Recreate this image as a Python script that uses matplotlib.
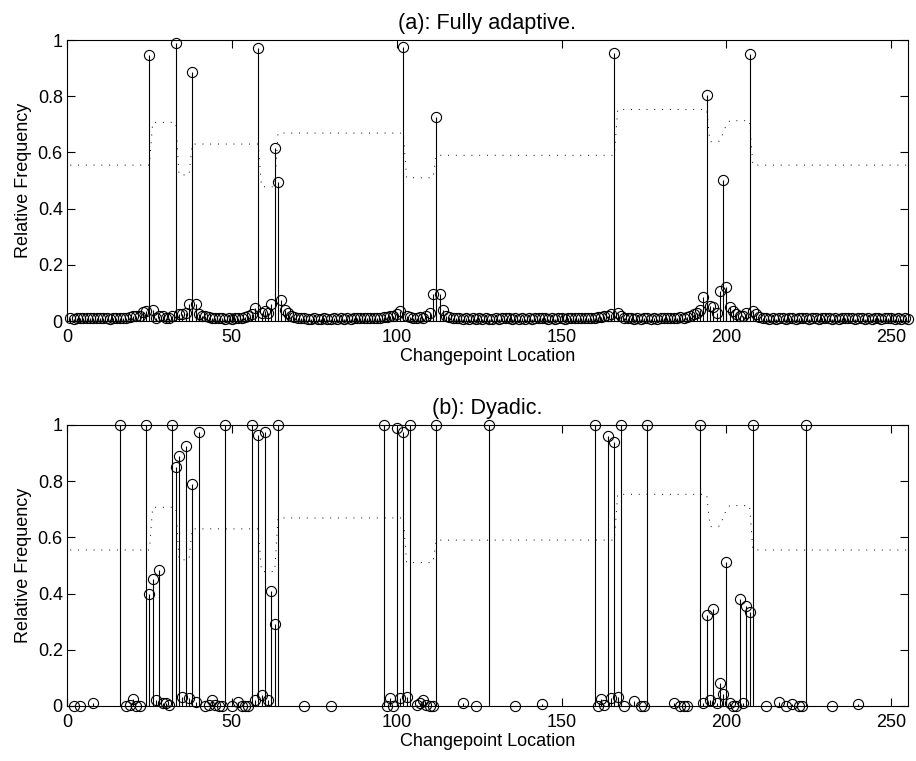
import numpy as np
from matplotlib import pyplot as plt

plt.rcParams['font.family'] = ['Liberation Sans', 'DejaVu Sans']
plt.rcParams['font.size'] = 13

# (a) fully adaptive: relative frequency at every location 1..255
freq_adaptive = [
    0.010, 0.008, 0.010, 0.012, 0.010, 0.012, 0.010, 0.012, 0.010, 0.010,
    0.012, 0.010, 0.008, 0.010, 0.010, 0.012, 0.010, 0.012, 0.015, 0.018,
    0.020, 0.020, 0.033, 0.035, 0.945, 0.038, 0.012, 0.020, 0.018, 0.012,
    0.010, 0.020, 0.990, 0.027, 0.025, 0.030, 0.060, 0.885, 0.060, 0.025,
    0.020, 0.018, 0.015, 0.012, 0.012, 0.010, 0.010, 0.008, 0.010, 0.008,
    0.010, 0.012, 0.012, 0.015, 0.020, 0.025, 0.045, 0.970, 0.030, 0.035,
    0.030, 0.060, 0.615, 0.495, 0.075, 0.040, 0.030, 0.020, 0.015, 0.012,
    0.010, 0.010, 0.008, 0.008, 0.010, 0.008, 0.008, 0.010, 0.008, 0.008,
    0.010, 0.008, 0.010, 0.008, 0.010, 0.008, 0.010, 0.010, 0.012, 0.010,
    0.010, 0.012, 0.010, 0.012, 0.012, 0.015, 0.015, 0.018, 0.020, 0.025,
    0.035, 0.975, 0.020, 0.015, 0.012, 0.012, 0.015, 0.012, 0.018, 0.030,
    0.098, 0.725, 0.098, 0.040, 0.020, 0.015, 0.012, 0.010, 0.010, 0.008,
    0.010, 0.008, 0.010, 0.008, 0.010, 0.008, 0.010, 0.008, 0.008, 0.010,
    0.008, 0.010, 0.010, 0.012, 0.008, 0.010, 0.008, 0.010, 0.008, 0.010,
    0.008, 0.010, 0.010, 0.012, 0.010, 0.008, 0.010, 0.008, 0.010, 0.010,
    0.008, 0.010, 0.010, 0.010, 0.012, 0.010, 0.010, 0.012, 0.012, 0.012,
    0.015, 0.015, 0.018, 0.020, 0.025, 0.955, 0.028, 0.018, 0.012, 0.010,
    0.010, 0.008, 0.010, 0.008, 0.010, 0.010, 0.008, 0.010, 0.008, 0.010,
    0.010, 0.012, 0.010, 0.012, 0.012, 0.015, 0.012, 0.015, 0.018, 0.025,
    0.030, 0.040, 0.087, 0.805, 0.055, 0.050, 0.030, 0.108, 0.503, 0.120,
    0.050, 0.035, 0.025, 0.020, 0.020, 0.030, 0.950, 0.037, 0.025, 0.015,
    0.010, 0.010, 0.008, 0.010, 0.008, 0.010, 0.010, 0.008, 0.010, 0.010,
    0.008, 0.010, 0.012, 0.010, 0.008, 0.010, 0.010, 0.008, 0.010, 0.010,
    0.010, 0.008, 0.010, 0.008, 0.010, 0.010, 0.012, 0.010, 0.008, 0.010,
    0.010, 0.008, 0.010, 0.008, 0.010, 0.010, 0.008, 0.010, 0.012, 0.010,
    0.008, 0.010, 0.008, 0.010, 0.008,
]
loc_adaptive = np.arange(1, len(freq_adaptive) + 1)

# (b) dyadic: only the locations that were ever picked
loc_dyadic = [2, 4, 8, 16, 18, 19, 20, 21, 22, 24, 25, 26, 27, 28, 29, 30, 31, 32,
              33, 34, 35, 36, 37, 38, 39, 40, 42, 43, 44, 45, 46, 47, 48, 50, 52,
              53, 54, 55, 56, 57, 58, 59, 60, 61, 62, 63, 64, 72, 80, 96, 97, 98,
              99, 100, 101, 102, 103, 104, 106, 107, 108, 109, 110, 111, 112, 120,
              124, 128, 136, 144, 160, 161, 162, 163, 164, 165, 166, 167, 168, 169,
              172, 174, 175, 176, 184, 186, 187, 188, 192, 193, 194, 195, 196, 197,
              198, 199, 200, 201, 202, 203, 204, 205, 206, 207, 208, 212, 216, 218,
              220, 222, 223, 224, 232, 240]
freq_dyadic = [0.0, 0.0, 0.01, 1.0, 0.0, 0.005, 0.025, 0.0, 0.0, 1.0, 0.40, 0.45,
               0.02, 0.485, 0.01, 0.01, 0.005, 1.0, 0.85, 0.89, 0.033, 0.925, 0.03,
               0.79, 0.015, 0.975, 0.0, 0.005, 0.02, 0.005, 0.0, 0.0, 1.0, 0.0, 0.015,
               0.0, 0.0, 0.0, 1.0, 0.02, 0.965, 0.04, 0.975, 0.02, 0.41, 0.29, 1.0,
               0.0, 0.0, 1.0, 0.0, 0.03, 0.0, 0.99, 0.03, 0.976, 0.033, 1.0, 0.005,
               0.01, 0.02, 0.005, 0.0, 0.0, 1.0, 0.012, 0.0, 1.0, 0.0, 0.008, 1.0,
               0.0, 0.024, 0.005, 0.962, 0.03, 0.938, 0.031, 1.0, 0.0, 0.017, 0.0,
               0.0, 1.0, 0.01, 0.0, 0.0, 0.0, 1.0, 0.012, 0.325, 0.02, 0.345, 0.01,
               0.08, 0.042, 0.511, 0.01, 0.0, 0.0, 0.382, 0.012, 0.357, 0.333, 1.0,
               0.0, 0.015, 0.0, 0.008, 0.0, 0.0, 1.0, 0.0, 0.007]

# underlying signal (dotted)
sig_x = [1, 25, 26, 33, 34, 37, 38, 58, 59, 63, 64, 102, 103, 111, 112, 166, 167,
         194, 195, 198, 199, 200, 201, 207, 208, 255]
sig_y = [0.555, 0.555, 0.707, 0.707, 0.52, 0.52, 0.63, 0.63, 0.478, 0.478, 0.669,
         0.669, 0.51, 0.51, 0.59, 0.59, 0.753, 0.753, 0.638, 0.64, 0.67, 0.70,
         0.713, 0.713, 0.555, 0.555]

panels = [
    (loc_adaptive, freq_adaptive, '(a): Fully adaptive.'),
    (loc_dyadic, freq_dyadic, '(b): Dyadic.'),
]

fig = plt.figure(figsize=(9.16, 7.61), dpi=100)
rects = [[0.0731, 0.578, 0.918, 0.3694], [0.0731, 0.0723, 0.918, 0.3694]]

for rect, (xs, ys, title) in zip(rects, panels):
    ax = fig.add_axes(rect)
    ax.vlines(xs, 0, ys, colors='k', linewidth=0.8)
    ax.plot(xs, ys, 'o', color='k', markerfacecolor='none',
            markersize=7.3, markeredgewidth=0.8, clip_on=False, zorder=3)
    ax.plot(sig_x, sig_y, color='k', linewidth=0.7, linestyle=(0, (1, 7)))
    ax.set_xlim(0, 255)
    ax.set_ylim(0, 1)
    ax.set_xticks([0, 50, 100, 150, 200, 250])
    ax.set_yticks([0, 0.2, 0.4, 0.6, 0.8, 1])
    ax.set_yticklabels(['0', '0.2', '0.4', '0.6', '0.8', '1'])
    ax.tick_params(direction='in', length=6, width=0.8, top=True, right=True)
    ax.tick_params(axis='x', pad=6)
    ax.tick_params(axis='y', pad=3)
    for s in ax.spines.values():
        s.set_linewidth(0.8)
    ax.set_title(title, pad=8)
    ax.set_xlabel('Changepoint Location', labelpad=1)
    ax.set_ylabel('Relative Frequency', labelpad=4)

plt.savefig('out.png', dpi=100)
